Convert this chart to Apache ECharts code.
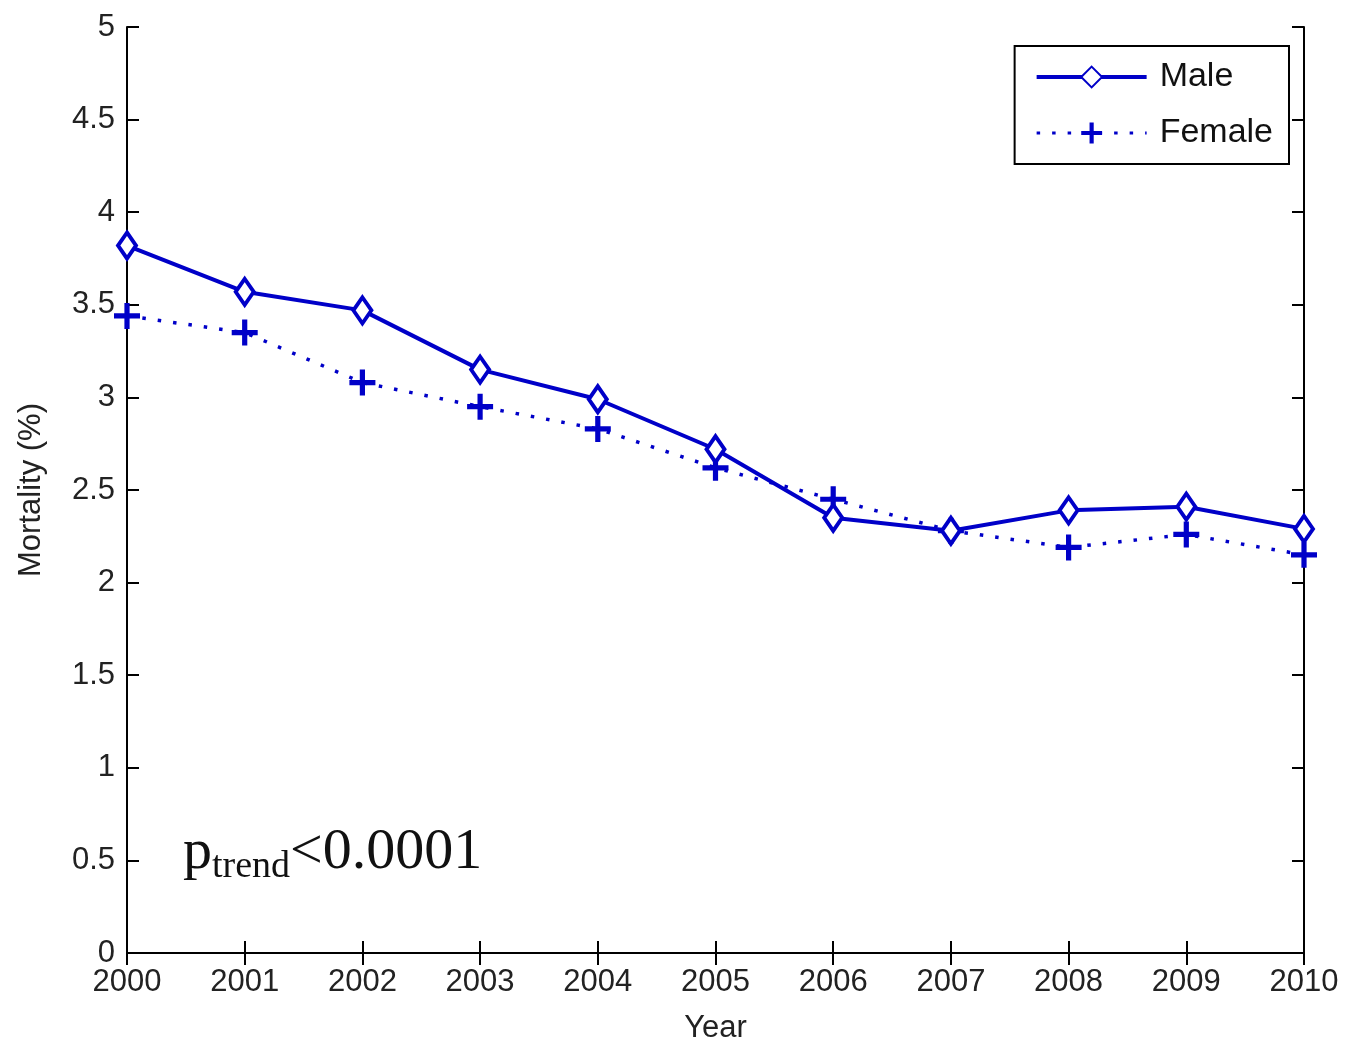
<!DOCTYPE html>
<html>
<head>
<meta charset="utf-8">
<script src="https://cdn.jsdelivr.net/npm/echarts@6/dist/echarts.min.js"></script>
<style>
  html, body { margin: 0; padding: 0; background: #fff; }
  #chart { width: 1359px; height: 1049px; }
</style>
</head>
<body>
<div id="chart"></div>
<script>
// values
var years = ["2000", "2001", "2002", "2003", "2004", "2005", "2006", "2007", "2008", "2009", "2010"];
var male = [3.82, 3.57, 3.47, 3.15, 2.99, 2.72, 2.35, 2.28, 2.39, 2.41, 2.29];
var female = [3.44, 3.35, 3.08, 2.95, 2.83, 2.62, 2.45, 2.28, 2.19, 2.26, 2.15];
var yTicks = [0, 0.5, 1, 1.5, 2, 2.5, 3, 3.5, 4, 4.5, 5];

var blue = "#0000c8";
var plus = "path://M8,0H12V8H20V12H12V20H8V12H0V8H8Z";
var lblFont = "Liberation Sans";

var chart = echarts.init(document.getElementById("chart"));

var option = {
  backgroundColor: "#fff",
  animation: false,
  grid: { left: 127, right: 55, top: 27, bottom: 96 },
  legend: {
    orient: "vertical",
    right: 70,
    top: 46,
    padding: [14, 16, 14, 20],
    itemGap: 22,
    itemWidth: 110,
    itemHeight: 26,
    borderColor: "#000",
    borderWidth: 2,
    borderRadius: 0,
    backgroundColor: "#fff",
    textStyle: { fontFamily: lblFont, fontSize: 34, color: "#111", padding: [0, 0, 0, 8] },
    data: [
      { name: "Male", lineStyle: { width: 4 } },
      { name: "Female", lineStyle: { width: 3 } }
    ]
  },
  xAxis: [
    {
      type: "category",
      data: years,
      boundaryGap: false,
      axisLine: { lineStyle: { color: "#000", width: 2 } },
      axisTick: { inside: true, length: 12, lineStyle: { color: "#000", width: 2 } },
      axisLabel: { fontFamily: lblFont, fontSize: 31, color: "#222", margin: 14 },
      name: "Year",
      nameLocation: "middle",
      nameGap: 60,
      nameTextStyle: { fontFamily: lblFont, fontSize: 31, color: "#222" },
      splitLine: { show: false }
    },
    {
      type: "category",
      data: years,
      position: "top",
      boundaryGap: false,
      axisLine: { lineStyle: { color: "#000", width: 2 } },
      axisTick: { inside: true, length: 12, lineStyle: { color: "#000", width: 2 } },
      axisLabel: { show: false },
      splitLine: { show: false }
    }
  ],
  yAxis: [
    {
      type: "value",
      min: 0,
      max: 5,
      interval: 0.5,
      axisLine: { show: true, lineStyle: { color: "#000", width: 2 } },
      axisTick: { show: true, inside: true, length: 12, lineStyle: { color: "#000", width: 2 } },
      axisLabel: {
        fontFamily: lblFont, fontSize: 31, color: "#222", margin: 12,
        formatter: function (v) { return yTicks.indexOf(v) >= 0 ? String(v) : ""; }
      },
      name: "Mortality (%)",
      nameLocation: "middle",
      nameGap: 80,
      nameTextStyle: { fontFamily: lblFont, fontSize: 31, color: "#222" },
      splitLine: { show: false }
    },
    {
      type: "value",
      min: 0,
      max: 5,
      interval: 0.5,
      position: "right",
      axisLine: { show: true, lineStyle: { color: "#000", width: 2 } },
      axisTick: { show: true, inside: true, length: 12, lineStyle: { color: "#000", width: 2 } },
      axisLabel: { show: false },
      splitLine: { show: false }
    }
  ],
  series: [
    {
      name: "Male",
      type: "line",
      data: male,
      symbol: "diamond",
      symbolSize: [18, 26],
      showAllSymbol: true,
      lineStyle: { color: blue, width: 4 },
      itemStyle: { color: "#fff", borderColor: blue, borderWidth: 4 },
      z: 3
    },
    {
      name: "Female",
      type: "line",
      data: female,
      symbol: plus,
      symbolSize: 26,
      showAllSymbol: true,
      lineStyle: { color: blue, width: 3.5, type: [3.5, 12] },
      itemStyle: { color: blue, borderWidth: 0 },
      z: 2
    }
  ],
  graphic: [
    {
      type: "text",
      left: 183,
      top: 824,
      style: {
        text: "{p|p}{s|trend}{p|<0.0001}",
        rich: {
          p: { fontFamily: "Liberation Serif", fontSize: 58, fill: "#111" },
          s: { fontFamily: "Liberation Serif", fontSize: 38, fill: "#111", verticalAlign: "bottom", padding: [28, 0, 0, 0] }
        }
      }
    }
  ]
};

chart.setOption(option);
</script>
</body>
</html>
